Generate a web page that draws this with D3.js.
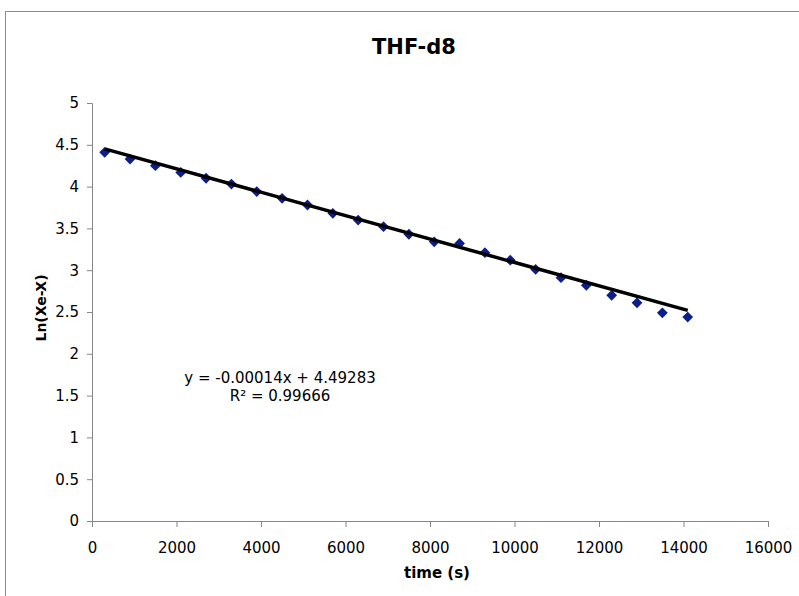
<!DOCTYPE html>
<html>
<head>
<meta charset="utf-8">
<script src="https://cdn.jsdelivr.net/npm/d3@7"></script>
<style>
  body { margin: 0; background: #fff; }
  svg { display: block; font-family: "DejaVu Sans", Verdana, sans-serif; }
</style>
</head>
<body>
<div id="chart-area"></div>
<script>
// Data
const times = [300, 900, 1500, 2100, 2700, 3300, 3900, 4500, 5100, 5700, 6300, 6900,
               7500, 8100, 8700, 9300, 9900, 10500, 11100, 11700, 12300, 12900, 13500, 14100];
const lnValues = [4.41, 4.33, 4.25, 4.17, 4.10, 4.03, 3.94, 3.86, 3.78, 3.68, 3.60, 3.52,
                  3.43, 3.34, 3.32, 3.21, 3.12, 3.01, 2.91, 2.82, 2.70, 2.61, 2.49, 2.44];
const xTicks = [0, 2000, 4000, 6000, 8000, 10000, 12000, 14000, 16000];
const yTicks = [0, 0.5, 1, 1.5, 2, 2.5, 3, 3.5, 4, 4.5, 5];
const slope = -0.00014;
const intercept = 4.49283;
const eqLines = ["y = -0.00014x + 4.49283", "R\u00B2 = 0.99666"];

function drawChart() {
    const width = 799, height = 596;
    const margin = { top: 103, right: 31, bottom: 75, left: 92 };
    const innerW = width - margin.left - margin.right;
    const innerH = height - margin.top - margin.bottom;
    const axisColor = "#868686";

    const svg = d3.select("#chart-area")
        .append("svg")
        .attr("width", width)
        .attr("height", height);

    // outer chart frame (right/bottom edges fall outside the view)
    svg.append("rect")
        .attr("x", 5.5).attr("y", 11.5)
        .attr("width", 820).attr("height", 620)
        .attr("fill", "none")
        .attr("stroke", "#8c8c8c");

    const g = svg.append("g")
        .attr("transform", `translate(${margin.left},${margin.top})`);

    const x = d3.scaleLinear().domain([0, 16000]).range([0, innerW]);
    const y = d3.scaleLinear().domain([0, 5]).range([innerH, 0]);

    // Y axis
    const yAxis = g.append("g")
        .call(d3.axisLeft(y).tickValues(yTicks).tickSize(5).tickPadding(8)
            .tickFormat(d => String(d)));
    yAxis.select(".domain").attr("stroke", axisColor);
    yAxis.selectAll(".tick line").attr("stroke", axisColor);
    yAxis.selectAll("text")
        .attr("fill", "#000")
        .style("font-size", "15px")
        .style("font-family", "DejaVu Sans, Verdana, sans-serif");

    // X axis
    const xAxis = g.append("g")
        .attr("transform", `translate(0,${innerH})`)
        .call(d3.axisBottom(x).tickValues(xTicks).tickSize(6).tickPadding(15)
            .tickFormat(d => String(d)));
    xAxis.select(".domain").attr("stroke", axisColor);
    xAxis.selectAll(".tick line").attr("stroke", axisColor);
    xAxis.selectAll("text")
        .attr("fill", "#000")
        .style("font-size", "15px")
        .style("font-family", "DejaVu Sans, Verdana, sans-serif");

    // Data points (diamonds = squares turned 45 degrees)
    const points = times.map((t, i) => ({ t: t, v: lnValues[i] }));
    g.selectAll(".pt")
        .data(points)
        .enter()
        .append("path")
        .attr("class", "pt")
        .attr("d", d3.symbol().type(d3.symbolSquare).size(58))
        .attr("transform", d => `translate(${x(d.t)},${y(d.v)}) rotate(45)`)
        .attr("fill", "#0B1E8E");

    // Linear trendline
    const tMin = d3.min(times), tMax = d3.max(times);
    const trend = [tMin, tMax].map(t => ({ t: t, v: slope * t + intercept }));
    g.append("path")
        .datum(trend)
        .attr("d", d3.line().x(d => x(d.t)).y(d => y(d.v)))
        .attr("fill", "none")
        .attr("stroke", "#000")
        .attr("stroke-width", 3.5);

    // Trendline equation
    const eq = svg.append("text")
        .attr("x", 280)
        .attr("y", 383)
        .attr("text-anchor", "middle")
        .style("font-size", "15px")
        .attr("fill", "#000");
    eq.selectAll("tspan")
        .data(eqLines)
        .enter()
        .append("tspan")
        .attr("x", 280)
        .attr("dy", (d, i) => i === 0 ? 0 : 18)
        .text(d => d);

    // Title
    svg.append("text")
        .attr("x", 414)
        .attr("y", 54)
        .attr("text-anchor", "middle")
        .style("font-size", "21px")
        .style("font-weight", "bold")
        .text("THF-d8");

    // Axis titles
    svg.append("text")
        .attr("x", 437)
        .attr("y", 578)
        .attr("text-anchor", "middle")
        .style("font-size", "15px")
        .style("font-weight", "bold")
        .text("time (s)");

    svg.append("text")
        .attr("transform", `translate(46,${margin.top + innerH / 2 - 4}) rotate(-90)`)
        .attr("text-anchor", "middle")
        .style("font-size", "14px")
        .style("font-weight", "bold")
        .text("Ln(Xe-X)");
}

drawChart();
</script>
</body>
</html>
